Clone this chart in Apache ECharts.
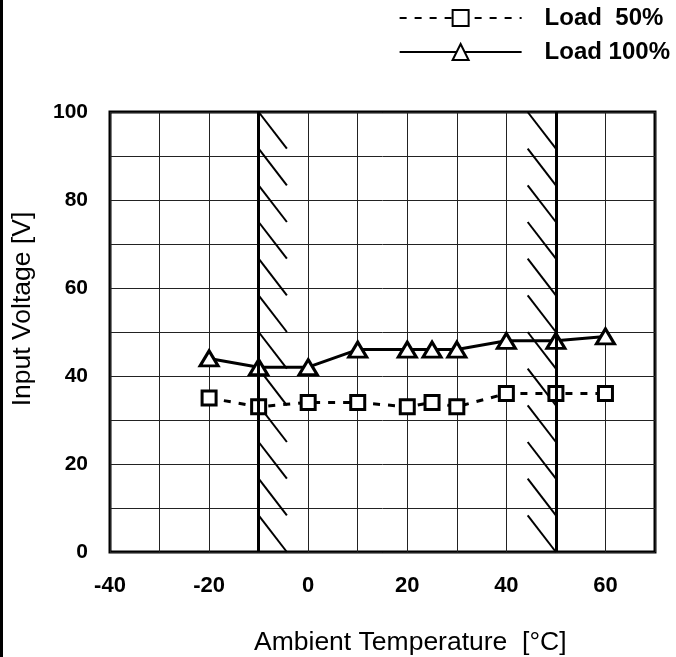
<!DOCTYPE html>
<html>
<head>
<meta charset="utf-8">
<script src="https://cdn.jsdelivr.net/npm/echarts@6/dist/echarts.min.js"></script>
<style>
  html, body { margin: 0; padding: 0; background: #fff; }
  #chart { width: 676px; height: 657px; }
</style>
</head>
<body>
<div id="chart"></div>
<script>
const temps = [-20, -10, 0, 10, 20, 25, 30, 40, 50, 60];
const load50 = [35, 33, 34, 34, 33, 34, 33, 36, 36, 36];
const load100 = [44, 42, 42, 46, 46, 46, 46, 48, 48, 49];

// hatched bands (left / right edge of each band, in °C)
const hatchBands = [[-10, -4.3], [44.3, 50]];
const hatchY = [100, 91.7, 83.3, 75, 66.7, 58.3, 50, 41.7, 33.3, 25, 16.7, 8.3, 0];
const boldLines = [-10, 50];

const hatchData = [];
hatchBands.forEach(b => {
    for (let i = 0; i < hatchY.length - 1; i++) {
        hatchData.push([b[0], hatchY[i], b[1], hatchY[i + 1]]);
    }
});

const chart = echarts.init(document.getElementById('chart'), null, { renderer: 'canvas' });

const font = '"Liberation Sans", Arial, sans-serif';

const option = {
    animation: false,
    backgroundColor: '#fff',
    textStyle: { fontFamily: font, color: '#000' },
    title: {
        text: 'Ambient Temperature  [°C]',
        left: 254,
        top: 629,
        padding: 0,
        textStyle: { fontFamily: font, fontSize: 26.5, fontWeight: 'normal', color: '#000' }
    },
    legend: {
        orient: 'vertical',
        right: 6,
        top: 6,
        padding: 0,
        itemWidth: 122,
        itemHeight: 20,
        itemGap: 10,
        textStyle: { fontFamily: font, fontSize: 24, fontWeight: 'bold', color: '#000', padding: [0, 0, 0, 18] },
        data: ['Load  50%', 'Load 100%']
    },
    grid: { left: 110, right: 21, top: 112, bottom: 105, show: true, borderColor: '#000', borderWidth: 3 },
    xAxis: {
        type: 'value',
        min: -40, max: 70, interval: 10,
        axisLine: { show: false },
        axisTick: { show: false },
        axisLabel: {
            margin: 23, fontSize: 22, fontWeight: 'bold', color: '#000', fontFamily: font,
            formatter: v => (v % 20 === 0 && v < 70) ? String(v) : ''
        },
        splitLine: { show: true, lineStyle: { color: '#222', width: 1 } }
    },
    yAxis: {
        type: 'value',
        min: 0, max: 100, interval: 10,
        axisLine: { show: false },
        axisTick: { show: false },
        axisLabel: {
            margin: 22, fontSize: 21, fontWeight: 'bold', color: '#000', fontFamily: font,
            formatter: v => v % 20 === 0 ? String(v) : ''
        },
        splitLine: { show: true, lineStyle: { color: '#222', width: 1 } }
    },
    graphic: [
        {
            type: 'line',
            shape: { x1: 1.5, y1: 0, x2: 1.5, y2: 657 },
            style: { stroke: '#000', lineWidth: 3 }
        },
        {
            type: 'text',
            x: 23,
            y: 309,
            rotation: Math.PI / 2,
            style: {
                text: 'Input Voltage [V]',
                font: '26.5px "Liberation Sans", Arial, sans-serif',
                fill: '#000',
                align: 'center',
                verticalAlign: 'middle'
            }
        }
    ],
    series: [
        {
            name: 'hatch',
            type: 'custom',
            silent: true,
            z: 1,
            data: hatchData,
            renderItem: (params, api) => {
                const p1 = api.coord([api.value(0), api.value(1)]);
                const p2 = api.coord([api.value(2), api.value(3)]);
                return {
                    type: 'line',
                    shape: { x1: p1[0], y1: p1[1], x2: p2[0], y2: p2[1] },
                    style: { stroke: '#000', lineWidth: 2 }
                };
            },
            markLine: {
                silent: true,
                symbol: 'none',
                label: { show: false },
                lineStyle: { color: '#000', width: 3, type: 'solid' },
                data: boldLines.map(v => ({ xAxis: v }))
            }
        },
        {
            name: 'Load  50%',
            type: 'line',
            z: 3,
            data: temps.map((t, i) => [t, load50[i]]),
            symbol: 'rect',
            symbolSize: 14,
            itemStyle: { color: '#fff', borderColor: '#000', borderWidth: 3 },
            lineStyle: { color: '#000', width: 3, type: [7, 8] }
        },
        {
            name: 'Load 100%',
            type: 'line',
            z: 3,
            data: temps.map((t, i) => [t, load100[i]]),
            symbol: 'triangle',
            symbolSize: [18, 15],
            itemStyle: { color: '#fff', borderColor: '#000', borderWidth: 3 },
            lineStyle: { color: '#000', width: 3 }
        }
    ]
};

chart.setOption(option);
</script>
</body>
</html>
